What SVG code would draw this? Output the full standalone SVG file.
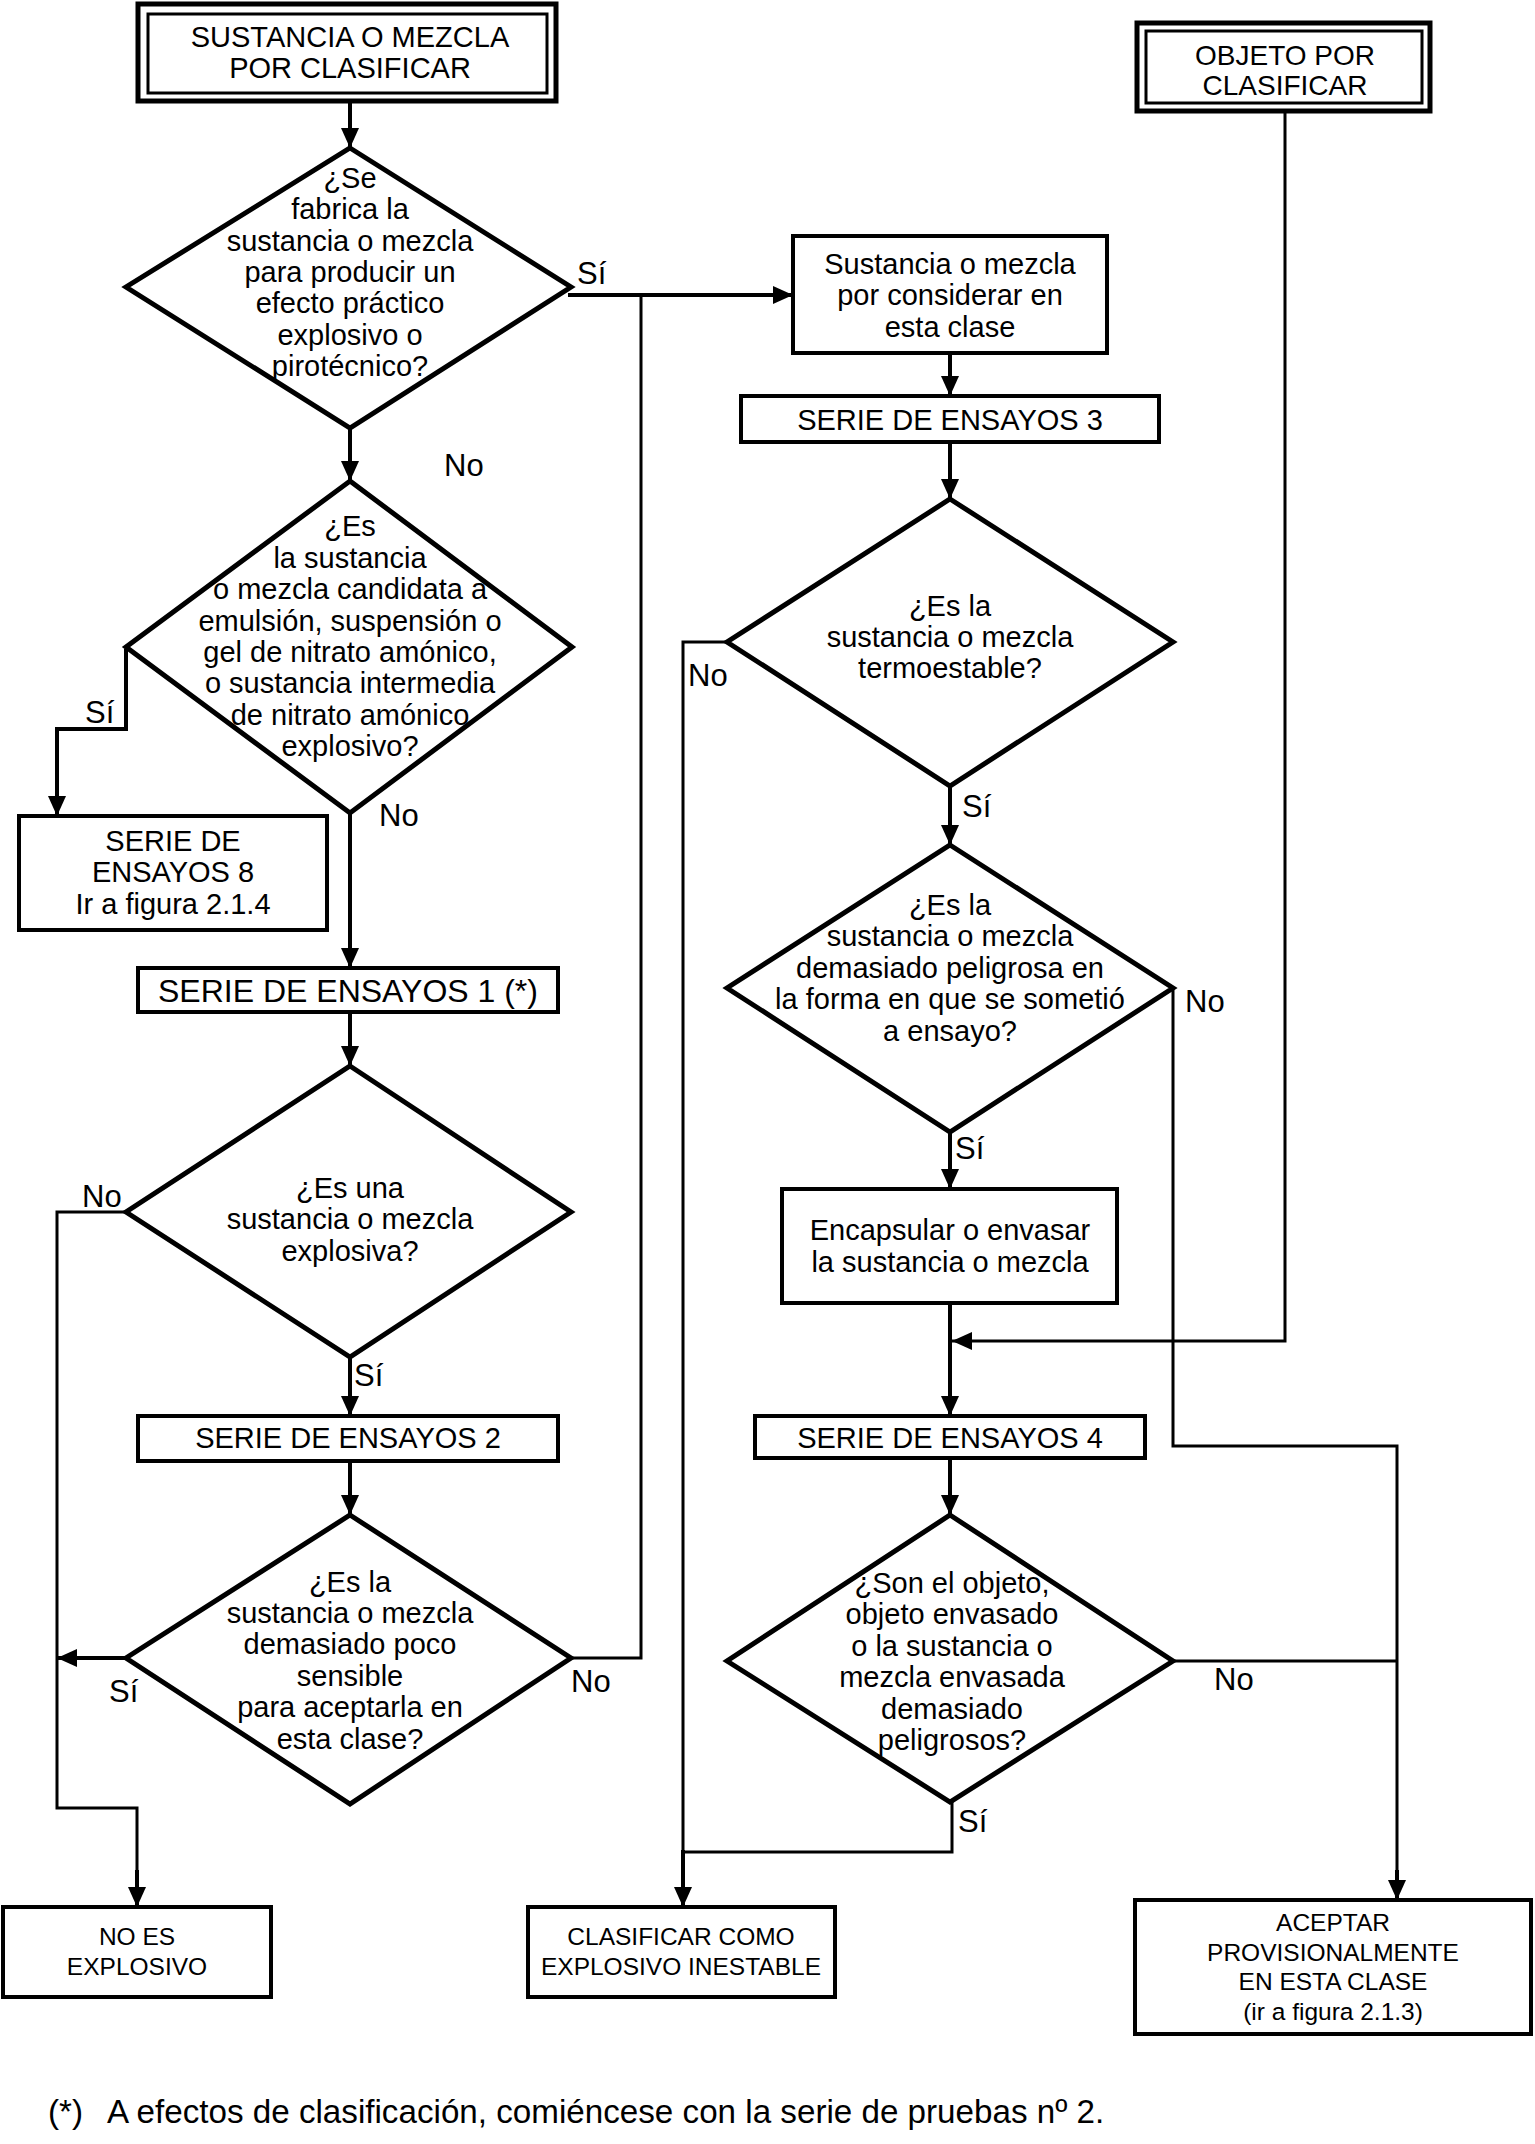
<svg xmlns="http://www.w3.org/2000/svg" width="1535" height="2144" viewBox="0 0 1535 2144">
<style>
text{font-family:"Liberation Sans",Arial,sans-serif;fill:#000}
.t{font-size:29px;text-anchor:middle}
.s{font-size:32px;text-anchor:middle}
.r{font-size:24.5px;text-anchor:middle}
.l{font-size:31px}
.f{font-size:33.2px}
.box{fill:#fff;stroke:#000;stroke-width:4}
.ob{fill:#fff;stroke:#000;stroke-width:5}
.ib{fill:none;stroke:#000;stroke-width:3}
.dia{fill:#fff;stroke:#000;stroke-width:5;stroke-linejoin:miter}
.c{fill:none;stroke:#000;stroke-width:4}
.cn{fill:none;stroke:#000;stroke-width:3}
.a{marker-end:url(#ah)}
</style>
<defs>
<marker id="ah" markerUnits="userSpaceOnUse" markerWidth="22" markerHeight="20" refX="20" refY="9" orient="auto">
<path d="M0,0 L20,9 L0,18 z" fill="#000"/>
</marker>
</defs>
<rect width="1535" height="2144" fill="#fff"/>

<g id="connectors">
<path class="c a" d="M350,101 V148"/>
<path class="c a" d="M350,428 V481"/>
<path class="c a" d="M568,295 H793"/>
<path class="cn" d="M641,295 V1658 H571"/>
<path class="c a" d="M950,353 V396"/>
<path class="c a" d="M950,442 V499"/>
<path class="cn" d="M727,642 H683 V1852"/>
<path class="cn" d="M952,1802 V1852 H683"/>
<path class="c a" d="M683,1850 V1907"/>
<path class="c a" d="M950,786 V845"/>
<path class="cn" d="M1173,988 V1446 H1397 V1880"/>
<path class="c a" d="M1397,1870 V1900"/>
<path class="cn" d="M1173,1661 H1397"/>
<path class="c a" d="M950,1132 V1189"/>
<path class="c a" d="M950,1303 V1416"/>
<path class="cn a" d="M1285,111 V1341 H952"/>
<path class="c a" d="M950,1458 V1515"/>
<path class="c a" d="M126,649 V729 H57 V816"/>
<path class="c a" d="M350,813 V968"/>
<path class="c a" d="M350,1012 V1066"/>
<path class="cn" d="M126,1212 H57 V1808 H137 V1880"/>
<path class="c a" d="M137,1870 V1907"/>
<path class="c a" d="M126,1658 H57"/>
<path class="c a" d="M350,1357 V1416"/>
<path class="c a" d="M350,1461 V1515"/>
</g>

<g id="start-substance">
<rect class="ob" x="138" y="4" width="418" height="97"/>
<rect class="ib" x="148" y="14" width="399" height="79"/>
<text class="t" x="350" y="47">SUSTANCIA O MEZCLA</text>
<text class="t" x="350" y="78">POR CLASIFICAR</text>
</g>

<g id="start-object">
<rect class="ob" x="1137" y="23" width="293" height="88"/>
<rect class="ib" x="1146" y="31" width="276" height="72"/>
<text class="t" x="1285" y="65" style="font-size:28px">OBJETO POR</text>
<text class="t" x="1285" y="95" style="font-size:28px">CLASIFICAR</text>
</g>

<g id="d1">
<polygon class="dia" points="350,148 571,287 350,428 126,287"/>
<text class="t" x="350" y="188">¿Se</text>
<text class="t" x="350" y="219">fabrica la</text>
<text class="t" x="350" y="251">sustancia o mezcla</text>
<text class="t" x="350" y="282">para producir un</text>
<text class="t" x="350" y="313">efecto práctico</text>
<text class="t" x="350" y="345">explosivo o</text>
<text class="t" x="350" y="376">pirotécnico?</text>
</g>

<g id="box-consider">
<rect class="box" x="793" y="236" width="314" height="117"/>
<text class="t" x="950" y="274">Sustancia o mezcla</text>
<text class="t" x="950" y="305">por considerar en</text>
<text class="t" x="950" y="337">esta clase</text>
</g>

<g id="serie3">
<rect class="box" x="741" y="396" width="418" height="46"/>
<text class="t" x="950" y="430">SERIE DE ENSAYOS 3</text>
</g>

<g id="d3">
<polygon class="dia" points="950,499 1173,642 950,786 727,642"/>
<text class="t" x="950" y="616">¿Es la</text>
<text class="t" x="950" y="647">sustancia o mezcla</text>
<text class="t" x="950" y="678">termoestable?</text>
</g>

<g id="d4">
<polygon class="dia" points="950,845 1173,988 950,1132 727,988"/>
<text class="t" x="950" y="915">¿Es la</text>
<text class="t" x="950" y="946">sustancia o mezcla</text>
<text class="t" x="950" y="978">demasiado peligrosa en</text>
<text class="t" x="950" y="1009">la forma en que se sometió</text>
<text class="t" x="950" y="1041">a ensayo?</text>
</g>

<g id="box-encapsular">
<rect class="box" x="782" y="1189" width="335" height="114"/>
<text class="t" x="950" y="1240">Encapsular o envasar</text>
<text class="t" x="950" y="1272">la sustancia o mezcla</text>
</g>

<g id="serie4">
<rect class="box" x="755" y="1416" width="390" height="42"/>
<text class="t" x="950" y="1448">SERIE DE ENSAYOS 4</text>
</g>

<g id="d5">
<polygon class="dia" points="950,1515 1173,1661 950,1802 727,1661"/>
<text class="t" x="952" y="1593">¿Son el objeto,</text>
<text class="t" x="952" y="1624">objeto envasado</text>
<text class="t" x="952" y="1656">o la sustancia o</text>
<text class="t" x="952" y="1687">mezcla envasada</text>
<text class="t" x="952" y="1719">demasiado</text>
<text class="t" x="952" y="1750">peligrosos?</text>
</g>

<g id="d2">
<polygon class="dia" points="350,481 572,647 350,813 126,647"/>
<text class="t" x="350" y="536">¿Es</text>
<text class="t" x="350" y="568">la sustancia</text>
<text class="t" x="350" y="599">o mezcla candidata a</text>
<text class="t" x="350" y="631">emulsión, suspensión o</text>
<text class="t" x="350" y="662">gel de nitrato amónico,</text>
<text class="t" x="350" y="693">o sustancia intermedia</text>
<text class="t" x="350" y="725">de nitrato amónico</text>
<text class="t" x="350" y="756">explosivo?</text>
</g>

<g id="serie8">
<rect class="box" x="19" y="816" width="308" height="114"/>
<text class="t" x="173" y="851">SERIE DE</text>
<text class="t" x="173" y="882">ENSAYOS 8</text>
<text class="t" x="173" y="914">Ir a figura 2.1.4</text>
</g>

<g id="serie1">
<rect class="box" x="138" y="968" width="420" height="44"/>
<text class="s" x="348" y="1002">SERIE DE ENSAYOS 1 (*)</text>
</g>

<g id="d6">
<polygon class="dia" points="350,1066 571,1212 350,1357 126,1212"/>
<text class="t" x="350" y="1198">¿Es una</text>
<text class="t" x="350" y="1229">sustancia o mezcla</text>
<text class="t" x="350" y="1261">explosiva?</text>
</g>

<g id="serie2">
<rect class="box" x="138" y="1416" width="420" height="45"/>
<text class="t" x="348" y="1448">SERIE DE ENSAYOS 2</text>
</g>

<g id="d7">
<polygon class="dia" points="350,1515 571,1658 350,1804 126,1658"/>
<text class="t" x="350" y="1592">¿Es la</text>
<text class="t" x="350" y="1623">sustancia o mezcla</text>
<text class="t" x="350" y="1654">demasiado poco</text>
<text class="t" x="350" y="1686">sensible</text>
<text class="t" x="350" y="1717">para aceptarla en</text>
<text class="t" x="350" y="1749">esta clase?</text>
</g>

<g id="no-explosivo">
<rect class="box" x="3" y="1907" width="268" height="90"/>
<text class="r" x="137" y="1945">NO ES</text>
<text class="r" x="137" y="1975">EXPLOSIVO</text>
</g>

<g id="inestable">
<rect class="box" x="528" y="1907" width="307" height="90"/>
<text class="r" x="681" y="1945">CLASIFICAR COMO</text>
<text class="r" x="681" y="1975">EXPLOSIVO INESTABLE</text>
</g>

<g id="aceptar">
<rect class="box" x="1135" y="1900" width="396" height="134"/>
<text class="r" x="1333" y="1931">ACEPTAR</text>
<text class="r" x="1333" y="1961">PROVISIONALMENTE</text>
<text class="r" x="1333" y="1990">EN ESTA CLASE</text>
<text class="r" x="1333" y="2020">(ir a figura 2.1.3)</text>
</g>

<g id="labels">
<text class="l" x="577" y="284">Sí</text>
<text class="l" x="444" y="476">No</text>
<text class="l" x="85" y="723">Sí</text>
<text class="l" x="379" y="826">No</text>
<text class="l" x="82" y="1207">No</text>
<text class="l" x="354" y="1386">Sí</text>
<text class="l" x="109" y="1702">Sí</text>
<text class="l" x="571" y="1692">No</text>
<text class="l" x="688" y="686">No</text>
<text class="l" x="962" y="817">Sí</text>
<text class="l" x="1185" y="1012">No</text>
<text class="l" x="955" y="1159">Sí</text>
<text class="l" x="1214" y="1690">No</text>
<text class="l" x="958" y="1832">Sí</text>
</g>

<text class="f" y="2123"><tspan x="48">(*)</tspan><tspan x="107">A efectos de clasificación, comiéncese con la serie de pruebas nº 2.</tspan></text>
</svg>
